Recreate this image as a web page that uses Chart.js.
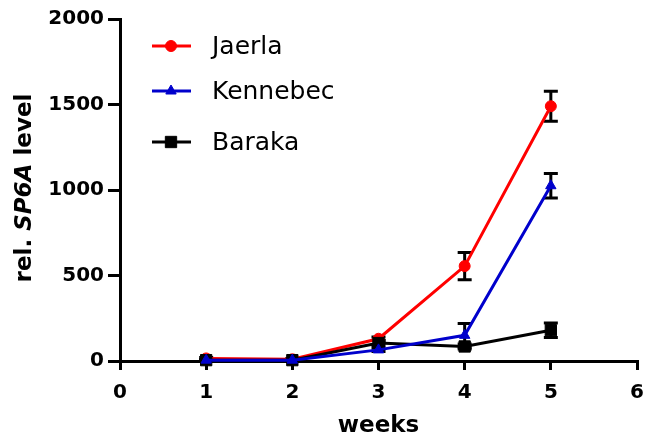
<html><head>
<meta charset="utf-8">
<title>SP6A</title>
<script src="https://cdn.jsdelivr.net/npm/chart.js"></script>
<style>
body { margin: 0; background: #fff; }
#wrap { width: 646px; height: 441px; }
</style>
</head>
<body>
<div id="wrap"><canvas id="sp6a" width="646" height="441"></canvas></div>
<script>
// values
var weeks = [1, 2, 3, 4, 5];
var jaerla = [15, 10, 130, 555, 1490];
var jaerlaErr = [5, 5, 10, 80, 88];
var kennebec = [5, 5, 65, 150, 1025];
var kennebecErr = [3, 3, 10, 70, 72];
var baraka = [5, 5, 105, 85, 180];
var barakaErr = [3, 3, 15, 15, 42];
var xTicks = [0, 1, 2, 3, 4, 5, 6];
var yTicks = [0, 500, 1000, 1500, 2000];

var names = ['Jaerla', 'Kennebec', 'Baraka'];
var colors = ['rgb(255, 0, 0)', 'rgb(0, 0, 204)', 'rgb(0, 0, 0)'];
var shapes = ['circle', 'triangle', 'rect'];
var sizes = [5.5, 6, 8];

function points(ys, errs) {
    var out = [];
    for (var i = 0; i < weeks.length; i++) {
        out.push({x: weeks[i], y: ys[i], err: errs[i]});
    }
    return out;
}

function makeSet(idx, ys, errs, order) {
    return {
        label: names[idx],
        data: points(ys, errs),
        borderColor: colors[idx],
        backgroundColor: colors[idx],
        borderWidth: 3,
        pointStyle: shapes[idx],
        pointRadius: sizes[idx],
        pointBorderWidth: 1,
        showLine: true,
        clip: false,
        order: order
    };
}

var errorBars = {
    id: 'errorBars',
    beforeDatasetsDraw: function(chart) {
        var ctx = chart.ctx;
        var xs = chart.scales.x, ys = chart.scales.y;
        ctx.save();
        ctx.strokeStyle = '#000';
        ctx.lineWidth = 3;
        chart.data.datasets.forEach(function(ds) {
            ds.data.forEach(function(p) {
                var x = xs.getPixelForValue(p.x);
                var top = ys.getPixelForValue(p.y + p.err);
                var bot = ys.getPixelForValue(Math.max(p.y - p.err, 0));
                ctx.beginPath();
                ctx.moveTo(x, top); ctx.lineTo(x, bot);
                ctx.moveTo(x - 7, top); ctx.lineTo(x + 7, top);
                ctx.moveTo(x - 7, bot); ctx.lineTo(x + 7, bot);
                ctx.stroke();
            });
        });
        ctx.restore();
    }
};

var legendBox = {
    id: 'legendBox',
    afterDraw: function(chart) {
        var ctx = chart.ctx;
        var rows = [46, 91, 142];
        ctx.save();
        ctx.font = '25px "DejaVu Sans"';
        ctx.textBaseline = 'middle';
        for (var i = 0; i < names.length; i++) {
            var y = rows[i];
            ctx.strokeStyle = colors[i];
            ctx.lineWidth = 3;
            ctx.beginPath();
            ctx.moveTo(152, y); ctx.lineTo(191, y);
            ctx.stroke();
            ctx.fillStyle = colors[i];
            ctx.strokeStyle = colors[i];
            ctx.lineWidth = 1;
            Chart.helpers.drawPoint(ctx, {pointStyle: shapes[i], radius: sizes[i], rotation: 0, borderWidth: 1}, 171, y);
            ctx.fillStyle = '#000';
            ctx.fillText(names[i], 212, y + 1);
        }
        ctx.restore();
    }
};

var yTitle = {
    id: 'yTitle',
    afterDraw: function(chart) {
        var ctx = chart.ctx;
        var parts = [
            ['rel. ', 'bold 23px "DejaVu Sans"'],
            ['SP6A', 'italic bold 23px "DejaVu Sans"'],
            [' level', 'bold 23px "DejaVu Sans"']
        ];
        ctx.save();
        ctx.translate(25, 188);
        ctx.rotate(-Math.PI / 2);
        ctx.fillStyle = '#000';
        ctx.textBaseline = 'middle';
        var total = 0;
        parts.forEach(function(p) { ctx.font = p[1]; total += ctx.measureText(p[0]).width; });
        var pos = -total / 2;
        parts.forEach(function(p) {
            ctx.font = p[1];
            ctx.fillText(p[0], pos, 0);
            pos += ctx.measureText(p[0]).width;
        });
        ctx.restore();
    }
};

var tickFont = {family: 'DejaVu Sans', size: 20, weight: 'bold'};
function plain(v) { return String(v); }

new Chart(document.getElementById('sp6a'), {
    type: 'scatter',
    data: {
        datasets: [
            makeSet(0, jaerla, jaerlaErr, 3),
            makeSet(1, kennebec, kennebecErr, 1),
            makeSet(2, baraka, barakaErr, 2)
        ]
    },
    options: {
        responsive: false,
        animation: false,
        layout: {padding: {top: 19, right: 9, left: 0, bottom: 0}},
        plugins: {legend: {display: false}, tooltip: {enabled: false}},
        scales: {
            x: {
                type: 'linear', min: 0, max: 6,
                afterBuildTicks: function(s) { s.ticks = xTicks.map(function(v) { return {value: v}; }); },
                afterFit: function(s) { s.height = 80; s.paddingRight = 0; s.paddingLeft = 0; },
                ticks: {color: '#000', font: tickFont, padding: 11, callback: plain},
                grid: {display: true, drawOnChartArea: false, tickLength: 9, color: '#000', lineWidth: 3},
                border: {display: true, color: '#000', width: 3},
                title: {display: true, text: 'weeks', color: '#000', font: {family: 'DejaVu Sans', size: 23, weight: 'bold'}, padding: {top: 0, bottom: 1}}
            },
            y: {
                min: 0, max: 2000,
                afterBuildTicks: function(s) { s.ticks = yTicks.map(function(v) { return {value: v}; }); },
                afterFit: function(s) { s.width = 120; },
                ticks: {color: '#000', font: tickFont, padding: 4, callback: plain},
                grid: {display: true, drawOnChartArea: false, tickLength: 12, color: '#000', lineWidth: 3},
                border: {display: true, color: '#000', width: 3}
            }
        }
    },
    plugins: [errorBars, legendBox, yTitle]
});
</script>
</body></html>
